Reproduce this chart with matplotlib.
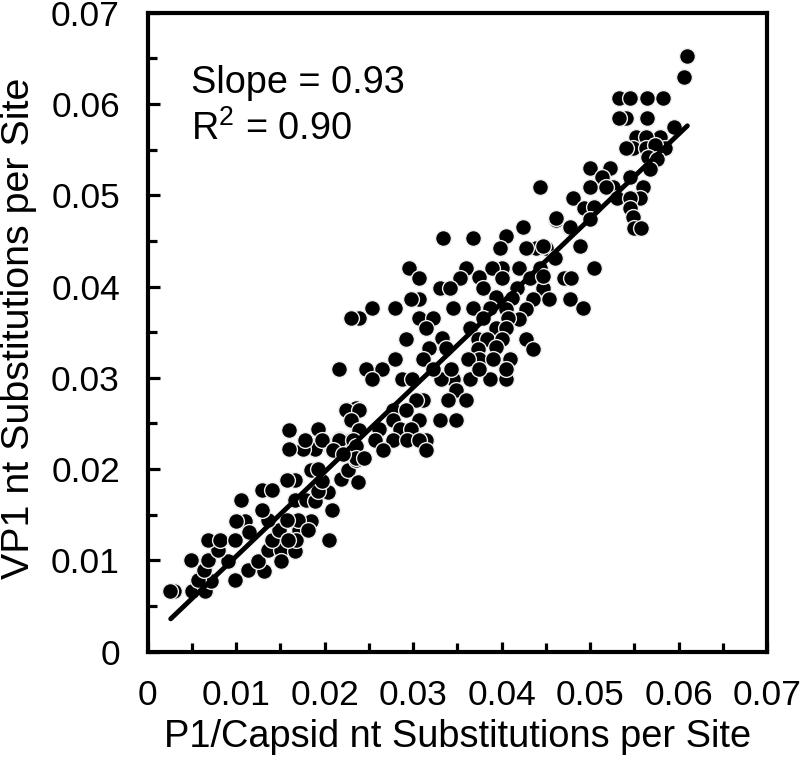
import matplotlib
matplotlib.use("Agg")
import matplotlib.pyplot as plt
from matplotlib.ticker import MultipleLocator, FixedFormatter, FixedLocator

plt.rcParams['font.family'] = ['Liberation Sans', 'DejaVu Sans']
plt.rcParams['mathtext.fontset'] = 'custom'
plt.rcParams['mathtext.rm'] = 'Liberation Sans'
plt.rcParams['mathtext.default'] = 'regular'

low_x = [.0030,.0025,.0050,.0065,.0099,.0072,.0057,.0064,.0049,.0068,.0091,.0080,.0068,.0082,.0099,
         .0113,.0132,.0125,.0136,.0151,.0151,.0167,.0140,.0148,.0171,.0168,.0159,.0205,.0208,.0185,
         .0170,.0157,.0181,.0136,.0110,.0100,.0114,.0129,.0106,.0129,.0140,.0166,.0179,.0189,.0204,
         .0193,.0197,.0166,.0157,.0185,.0193,.0219,.0226,.0236,.0238,.0208,.0189,.0175,.0160,.0160,
         .0178,.0193,.0197,.0216,.0230,.0238,.0224,.0236,.0230]
low_y = [.0066,.0066,.0066,.0066,.0078,.0077,.0078,.0089,.0100,.0100,.0099,.0111,.0122,.0122,.0122,
         .0089,.0088,.0099,.0111,.0111,.0099,.0110,.0122,.0133,.0133,.0122,.0122,.0122,.0155,.0143,
         .0144,.0144,.0133,.0144,.0143,.0143,.0131,.0155,.0166,.0177,.0177,.0166,.0166,.0165,.0175,
         .0176,.0187,.0188,.0188,.0199,.0200,.0189,.0199,.0210,.0186,.0222,.0222,.0222,.0222,.0243,
         .0232,.0244,.0232,.0233,.0232,.0243,.0265,.0267,.0254]

mid_x = [.0334,.0368,.0405,.0424,.0398,.0462,.0477,.0439,.0428,.0450,.0460,.0443,.0420,.0401,.0389,
         .0360,.0295,.0307,.0353,.0375,.0379,.0330,.0342,.0417,.0447,.0401,.0432,.0447,.0471,.0394,
         .0412,.0435,.0454,.0477,.0307,.0298,.0254,.0280,.0345,.0368,.0387,.0428,.0405,.0239,.0230,
         .0307,.0323,.0420,.0379,.0407,.0315,.0364,.0394,.0405,.0292,.0333,.0373,.0384,.0401,.0428,
         .0435,.0318,.0337,.0373,.0394,.0280,.0311,.0374,.0390,.0409,.0362,.0247,.0265,.0216,.0254,
         .0287,.0299,.0345,.0364,.0387,.0405,.0332,.0343,.0323,.0405,.0375,.0349,.0311,.0339,.0360,
         .0303,.0277,.0292,.0224,.0239,.0330,.0349,.0307,.0277,.0230,.0239,.0285,.0262,.0298,.0216,
         .0232,.0277,.0257,.0293,.0314,.0307,.0210,.0236,.0266,.0314,.0235,.0245,.0221]
mid_y = [.0453,.0453,.0455,.0465,.0442,.0473,.0464,.0442,.0442,.0442,.0431,.0420,.0420,.0420,.0420,
         .0420,.0420,.0409,.0409,.0410,.0398,.0398,.0398,.0398,.0398,.0409,.0409,.0411,.0409,.0389,
         .0387,.0386,.0386,.0386,.0386,.0386,.0376,.0376,.0376,.0376,.0376,.0375,.0375,.0365,.0365,
         .0365,.0365,.0364,.0365,.0365,.0354,.0354,.0354,.0354,.0343,.0344,.0343,.0343,.0343,.0343,
         .0331,.0333,.0333,.0332,.0334,.0321,.0321,.0321,.0321,.0321,.0321,.0310,.0310,.0310,.0299,
         .0299,.0299,.0299,.0299,.0299,.0299,.0299,.0310,.0310,.0310,.0310,.0287,.0276,.0276,.0276,
         .0276,.0265,.0265,.0265,.0265,.0254,.0254,.0254,.0254,.0254,.0243,.0244,.0244,.0244,.0232,
         .0232,.0232,.0232,.0232,.0232,.0232,.0221,.0225,.0221,.0221,.0212,.0212,.0217]

high_x = [.0610,.0606,.0533,.0545,.0564,.0583,.0541,.0564,.0533,.0595,.0579,.0552,.0563,.0549,.0541,
          .0563,.0585,.0573,.0565,.0576,.0568,.0500,.0523,.0514,.0545,.0500,.0526,.0518,.0560,.0531,
          .0557,.0545,.0481,.0493,.0504,.0545,.0500,.0462,.0549,.0477,.0550,.0558,.0489,.0443,.0447,
          .0504,.0492,.0479]
high_y = [.0652,.0630,.0607,.0607,.0607,.0607,.0585,.0585,.0585,.0575,.0564,.0564,.0564,.0552,.0552,
          .0552,.0552,.0555,.0542,.0540,.0529,.0530,.0530,.0520,.0520,.0509,.0509,.0509,.0509,.0497,
          .0497,.0497,.0497,.0486,.0487,.0486,.0474,.0475,.0476,.0465,.0464,.0464,.0444,.0509,.0444,
          .0420,.0376,.0409]

fit_x = [.0026, .0610]
fit_y = [.0036, .0576]

x_major = [0, .01, .02, .03, .04, .05, .06, .07]
tick_labels = ['0', '0.01', '0.02', '0.03', '0.04', '0.05', '0.06', '0.07']

W, H = 800, 761
fig = plt.figure(figsize=(W/100, H/100), dpi=100)
ax = fig.add_axes([147.7/W, 1-651.7/H, (767-147.7)/W, (651.7-12.6)/H])

for xs, ys in [(low_x, low_y), (mid_x, mid_y), (high_x, high_y)]:
    ax.scatter(xs, ys, s=11.4**2, c='black', edgecolors='#eeeeee', linewidths=1.0, zorder=3, clip_on=False)
ax.plot(fit_x, fit_y, color='black', lw=3.5, solid_capstyle='round', zorder=4)

ax.set_xlim(0, .07)
ax.set_ylim(0, .07)
for axis in (ax.xaxis, ax.yaxis):
    axis.set_major_locator(FixedLocator(x_major))
    axis.set_major_formatter(FixedFormatter(tick_labels))
    axis.set_minor_locator(MultipleLocator(.005))
for s in ax.spines.values():
    s.set_linewidth(3.0)
    s.set_zorder(5)
ax.tick_params(which='major', direction='in', length=8.5, width=2.3, top=False, right=False, labelsize=25.5)
ax.tick_params(which='minor', direction='in', length=6.2, width=2.3, top=False, right=False)
ax.tick_params(axis='x', which='major', pad=20, length=7.5)
ax.tick_params(axis='y', which='major', pad=20)

fig.text(458/W, 1-737/H, 'P1/Capsid nt Substitutions per Site', fontsize=27.4, ha='center', va='center', color='black')
fig.text(19/W, 1-328/H, 'VP1 nt Substitutions per Site', fontsize=28.4, ha='center', va='center', rotation=90, color='black')
fig.text(191/W, 1-93/H, 'Slope = 0.93', fontsize=27.3, ha='left', va='baseline')
fig.text(191/W, 1-140/H, 'R$^{2}$ = 0.90', fontsize=27.3, ha='left', va='baseline')

fig.savefig('out.png', dpi=100)
